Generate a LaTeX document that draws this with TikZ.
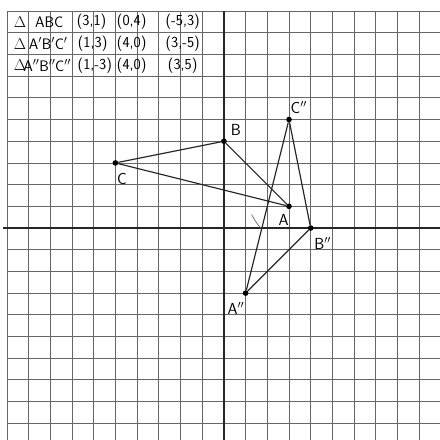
\documentclass[tikz,border=0pt]{standalone}
\begin{document}
\begin{tikzpicture}[x=1cm,y=1cm,
  gridline/.style={draw=black!60,line width=1.1pt},
  axisline/.style={draw=black!85,line width=1.8pt},
  tri/.style={draw=black!85,line width=1.5pt},
  dot/.style={circle,fill=black,inner sep=0pt,minimum size=0.26cm},
  lbl/.style={font=\fontsize{21}{24}\selectfont\sffamily,inner sep=1pt},
  tbl/.style={font=\fontsize{20}{24}\selectfont\sffamily,inner sep=1pt},
  stroke/.style={draw=black!60,line width=0.9pt}]
\useasboundingbox (-10.32,-9.77) rectangle (9.95,10.51);
\fill[white] (-10.32,-9.77) rectangle (9.95,10.51);
\begin{scope}
\clip (-10.32,-9.77) rectangle (9.95,10.51);
\foreach \i in {-10,...,9} {\draw[gridline] (\i,-9.9) -- (\i,10);}
\foreach \j in {-9,...,10} {\draw[gridline] (-10,\j) -- (10.1,\j);}
\draw[axisline] (-10.2,0) -- (10.1,0);
\draw[axisline] (0,10) -- (0,-9.9);
\end{scope}
% table
\node[tbl] (t11) at (-9.4,9.5) {$\Delta$};
\node[tbl] (t12) at (-8.05,9.5) {ABC};
\node[tbl] (t13) at (-6.1,9.5) {(3,1)};
\node[tbl] (t14) at (-4.25,9.5) {(0,4)};
\node[tbl] (t15) at (-1.9,9.5) {(-5,3)};
\node[tbl] (t21) at (-9.4,8.5) {$\Delta$};
\node[tbl] (t22) at (-8.1,8.5) {A$'$B$'$C$'$};
\node[tbl] (t23) at (-6.05,8.5) {(1,3)};
\node[tbl] (t24) at (-4.25,8.5) {(4,0)};
\node[tbl] (t25) at (-1.9,8.5) {(3,-5)};
\node[tbl] (t31) at (-9.4,7.5) {$\Delta$};
\node[tbl] (t32) at (-8.15,7.5) {A$''$B$''$C$''$};
\node[tbl] (t33) at (-5.95,7.5) {(1,-3)};
\node[tbl] (t34) at (-4.25,7.5) {(4,0)};
\node[tbl] (t35) at (-1.9,7.5) {(3,5)};
% points
\node[dot] (A) at (3,1) {};
\node[dot] (B) at (0,4) {};
\node[dot] (C) at (-5,3) {};
\node[dot] (A2) at (1,-3) {};
\node[dot] (B2) at (4,0) {};
\node[dot] (C2) at (3,5) {};
\draw[tri] (A) -- (B) -- (C) -- (A);
\draw[tri] (A2) -- (B2) -- (C2) -- (A2);
% labels
\node[lbl] (lA) at (2.75,0.35) {A};
\node[lbl] (lB) at (0.55,4.5) {B};
\node[lbl] (lC) at (-4.7,2.25) {C};
\node[lbl] (lA2) at (0.55,-3.7) {A$''$};
\node[lbl] (lB2) at (4.55,-0.7) {B$''$};
\node[lbl] (lC2) at (3.45,5.55) {C$''$};
% small stroke
\draw[stroke] (1.28,0.62) .. controls (1.4,0.4) and (1.55,0.15) .. (1.7,0.0);
\end{tikzpicture}
\end{document}
